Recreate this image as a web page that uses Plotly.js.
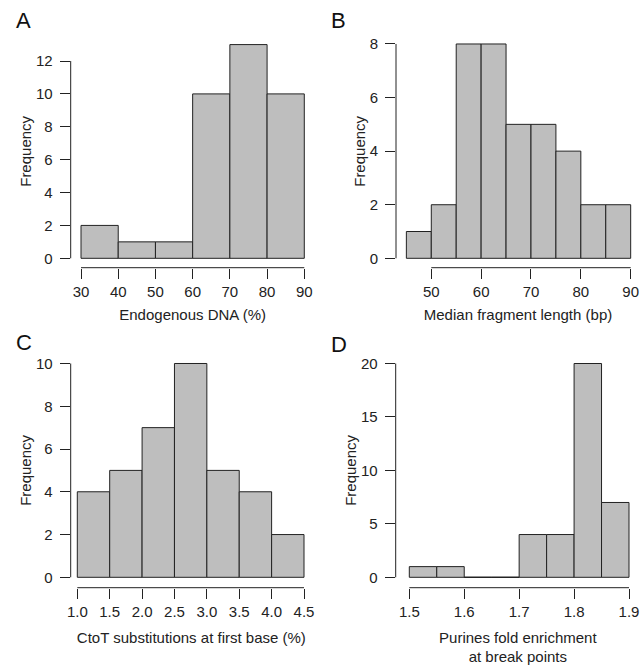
<!DOCTYPE html>
<html><head><meta charset="utf-8">
<script src="https://cdn.plot.ly/plotly-3.0.1.min.js"></script>
<style>html,body{margin:0;padding:0;background:#fff}#chart{width:640px;height:666px}</style>
</head><body><div id="chart"></div>
<script>
// ---- data ----
const aEdges = [30, 40, 50, 60, 70, 80, 90];
const aCounts = [2, 1, 1, 10, 13, 10];
const aXTicks = [30, 40, 50, 60, 70, 80, 90];
const aYTicks = [0, 2, 4, 6, 8, 10, 12];

const bEdges = [45, 50, 55, 60, 65, 70, 75, 80, 85, 90];
const bCounts = [1, 2, 8, 8, 5, 5, 4, 2, 2];
const bXTicks = [50, 60, 70, 80, 90];
const bYTicks = [0, 2, 4, 6, 8];

const cEdges = [1.0, 1.5, 2.0, 2.5, 3.0, 3.5, 4.0, 4.5];
const cCounts = [4, 5, 7, 10, 5, 4, 2];
const cXTicks = [1.0, 1.5, 2.0, 2.5, 3.0, 3.5, 4.0, 4.5];
const cXTickText = ['1.0', '1.5', '2.0', '2.5', '3.0', '3.5', '4.0', '4.5'];
const cYTicks = [0, 2, 4, 6, 8, 10];

const dEdges = [1.5, 1.55, 1.6, 1.65, 1.7, 1.75, 1.8, 1.85, 1.9];
const dCounts = [1, 1, 0, 0, 4, 4, 20, 7];
const dXTicks = [1.5, 1.6, 1.7, 1.8, 1.9];
const dYTicks = [0, 5, 10, 15, 20];

const panelLetters = ['A', 'B', 'C', 'D'];
const xTitles = ['Endogenous DNA (%)', 'Median fragment length (bp)',
  'CtoT substitutions at first base (%)', 'Purines fold enrichment<br>at break points'];
const yTitle = 'Frequency';

// ---- layout geometry (pixels) ----
const W = 640, H = 666;
const panels = [
  {edges: aEdges, counts: aCounts, xt: aXTicks, xtt: null, yt: aYTicks, xso: 10,
   box: [70.7, 35, 314.6, 267.7], xr: [27.23, 92.77], yr: [-0.572, 13.583], letter: [13.5, 20.5]},
  {edges: bEdges, counts: bCounts, xt: bXTicks, xtt: null, yt: bYTicks, xso: 10,
   box: [396, 35, 640, 267.7], xr: [42.92, 91.87], yr: [-0.351, 8.335], letter: [328.5, 20.5]},
  {edges: cEdges, counts: cCounts, xt: cXTicks, xtt: cXTickText, yt: cYTicks, xso: 13,
   box: [70.7, 353.1, 312, 587.7], xr: [0.898, 4.6235], yr: [-0.486, 10.486], letter: [13.5, 342.5]},
  {edges: dEdges, counts: dCounts, xt: dXTicks, xtt: null, yt: dYTicks, xso: 13,
   box: [395.7, 353.1, 640, 587.7], xr: [1.47524, 1.92002], yr: [-0.973, 20.973], letter: [328.5, 344]}
];

const FONT = 'Liberation Sans, Arial, Helvetica, sans-serif';
const INK = '#222';
const traces = [];
const layout = {
  width: W, height: H, margin: {l: 0, r: 0, t: 0, b: 0},
  paper_bgcolor: '#fff', plot_bgcolor: 'rgba(0,0,0,0)',
  showlegend: false, hovermode: false,
  font: {family: FONT, size: 15, color: INK},
  annotations: [], shapes: []
};

function toPaper(ax, v) { return ax.domain[0] + (v - ax.range[0]) / (ax.range[1] - ax.range[0]) * (ax.domain[1] - ax.domain[0]); }

panels.forEach((p, i) => {
  const n = i + 1;
  const xa = 'xaxis' + (n === 1 ? '' : n), ya = 'yaxis' + (n === 1 ? '' : n);
  const xref = 'x' + (n === 1 ? '' : n), yref = 'y' + (n === 1 ? '' : n);
  const centers = p.counts.map((_, k) => (p.edges[k] + p.edges[k + 1]) / 2);
  const widths = p.counts.map((_, k) => p.edges[k + 1] - p.edges[k]);
  traces.push({type: 'bar', x: centers, y: p.counts, width: widths, xaxis: xref, yaxis: yref,
    marker: {color: '#bebebe', line: {color: INK, width: 1}}});
  // zero-count bins drawn as flat outline at 0
  const zx = [], zy = [];
  p.counts.forEach((c, k) => { if (c === 0) { zx.push(p.edges[k], p.edges[k + 1], null); zy.push(0, 0, null); } });
  if (zx.length) traces.push({type: 'scatter', mode: 'lines', x: zx, y: zy, xaxis: xref, yaxis: yref,
    line: {color: INK, width: 1}});

  const [x0, y0, x1, y1] = p.box;
  const xd = [x0 / W, x1 / W], yd = [1 - y1 / H, 1 - y0 / H];
  const common = {showgrid: false, zeroline: false, showline: false, ticks: 'outside', ticklen: 10,
    tickwidth: 1, tickcolor: INK, fixedrange: true, tickfont: {family: FONT, size: 15, color: INK}};
  layout[xa] = Object.assign({}, common, {domain: xd, range: p.xr, anchor: yref,
    tickmode: 'array', tickvals: p.xt, ticktext: p.xtt || p.xt.map(String),
    title: {text: xTitles[i], standoff: p.xso, font: {family: FONT, size: 15, color: INK}}});
  layout[ya] = Object.assign({}, common, {domain: yd, range: p.yr, anchor: xref,
    tickmode: 'array', tickvals: p.yt, ticktext: p.yt.map(String), ticklabelstandoff: 4,
    title: {text: yTitle, standoff: 0, font: {family: FONT, size: 15, color: INK}}});

  // R-style axis lines spanning only first to last tick
  const xaxObj = {domain: xd, range: p.xr}, yaxObj = {domain: yd, range: p.yr};
  layout.shapes.push({type: 'line', xref: 'paper', yref: 'paper',
    x0: toPaper(xaxObj, p.xt[0]), x1: toPaper(xaxObj, p.xt[p.xt.length - 1]), y0: yd[0], y1: yd[0],
    line: {color: INK, width: 1}});
  layout.shapes.push({type: 'line', xref: 'paper', yref: 'paper',
    x0: xd[0], x1: xd[0], y0: toPaper(yaxObj, p.yt[0]), y1: toPaper(yaxObj, p.yt[p.yt.length - 1]),
    line: {color: INK, width: 1}});

  layout.annotations.push({text: panelLetters[i], xref: 'paper', yref: 'paper',
    x: p.letter[0] / W, y: 1 - p.letter[1] / H, xanchor: 'left', yanchor: 'middle', showarrow: false,
    font: {family: FONT, size: 22, color: '#111'}});
});

Plotly.newPlot('chart', traces, layout, {displayModeBar: false, staticPlot: true});
</script>
</body></html>
